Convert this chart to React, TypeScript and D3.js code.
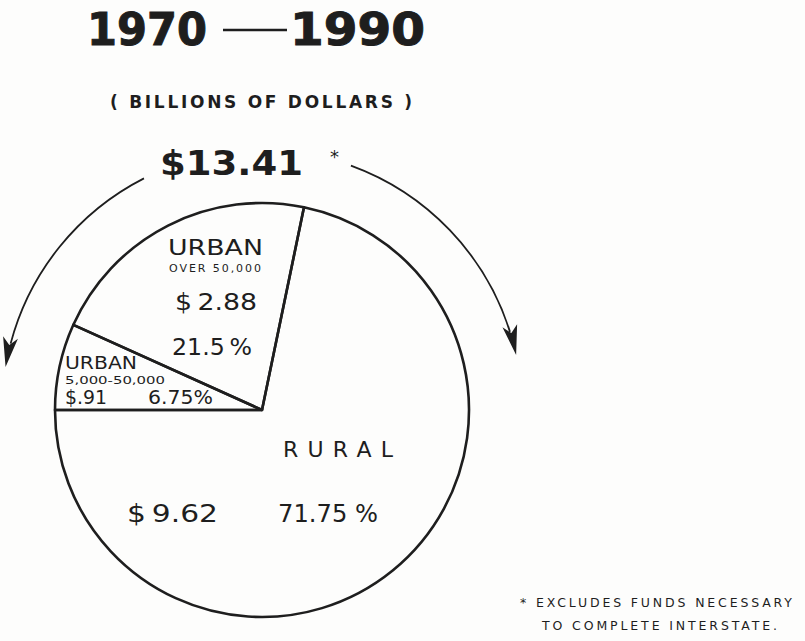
import React from "react";
import * as d3 from "d3";

const categories = ["URBAN", "URBAN", "RURAL"];
const subLabels = ["5,000-50,000", "OVER 50,000", ""];
const amounts = [0.91, 2.88, 9.62];
const percents = [6.75, 21.5, 71.75];
const totalLabel = "$13.41";
const titleYears = ["1970", "1990"];

const W = 805;
const H = 641;
const CX = 262;
const CY = 410;
const R = 207;
const ARROW_R = 260;
const INK = "#1e1e1e";
const SANS = "'DejaVu Sans', 'Liberation Sans', sans-serif";
const BOLD = "'DejaVu Sans', 'Liberation Sans', sans-serif";

const deg = (d: number) => (d * Math.PI) / 180;

function arrow(startDeg: number, tipDeg: number) {
  const dir = tipDeg > startDeg ? 1 : -1;
  const headLen = 30;
  const halfW = 7.5;
  const tip = deg(tipDeg);
  const tx = CX + ARROW_R * Math.sin(tip);
  const ty = CY - ARROW_R * Math.cos(tip);
  const dx = dir * Math.cos(tip);
  const dy = dir * Math.sin(tip);
  const nx = -dy;
  const ny = dx;
  const bx = tx - dx * headLen;
  const by = ty - dy * headLen;
  const notchX = tx - dx * headLen * 0.75;
  const notchY = ty - dy * headLen * 0.75;
  const lineEnd = tipDeg - dir * ((headLen * 0.8) / ARROW_R) * (180 / Math.PI);
  const p = d3.path();
  const a0 = deg(startDeg) - Math.PI / 2;
  const a1 = deg(lineEnd) - Math.PI / 2;
  p.moveTo(CX + ARROW_R * Math.cos(a0), CY + ARROW_R * Math.sin(a0));
  p.arc(CX, CY, ARROW_R, a0, a1, dir < 0);
  const head = d3.path();
  head.moveTo(tx, ty);
  head.lineTo(bx + nx * halfW, by + ny * halfW);
  head.lineTo(notchX, notchY);
  head.lineTo(bx - nx * halfW, by - ny * halfW);
  head.closePath();
  return { line: p.toString(), head: head.toString() };
}

export default function App() {
  const pie = d3
    .pie<number>()
    .sort(null)
    .value((d) => d)
    .startAngle(-Math.PI / 2)
    .endAngle((3 * Math.PI) / 2);
  const arcs = pie(percents);
  const arcGen = d3.arc<d3.PieArcDatum<number>>().innerRadius(0).outerRadius(R);

  const left = arrow(-27, -80.5);
  const right = arrow(20, 77.8);

  const money = (v: number, gap: string) =>
    "$" + gap + (v < 1 ? d3.format(".2f")(v).replace(/^0/, "") : d3.format(".2f")(v));

  return (
    <div style={{ position: "absolute", left: 0, top: 0 }}>
      <svg width={W} height={H} style={{ display: "block", background: "#fdfdfc" }}>
        {/* Title */}
        <text x={87} y={45} fontFamily={BOLD} fontWeight="bold" fontSize={45} fill={INK} textLength={120} lengthAdjust="spacingAndGlyphs" stroke={INK} strokeWidth={1}>
          {titleYears[0]}
        </text>
        <line x1={223} x2={287} y1={30} y2={30} stroke={INK} strokeWidth={2.5} />
        <text x={290} y={45} fontFamily={BOLD} fontWeight="bold" fontSize={45} fill={INK} textLength={135} lengthAdjust="spacingAndGlyphs" stroke={INK} strokeWidth={1}>
          {titleYears[1]}
        </text>
        <text x={110} y={108} fontFamily={BOLD} fontWeight="bold" fontSize={17} fill={INK} textLength={302} lengthAdjust="spacing">
          ( BILLIONS OF DOLLARS )
        </text>
        <text x={160} y={175} fontFamily={BOLD} fontWeight="bold" fontSize={34} fill={INK} textLength={143} lengthAdjust="spacingAndGlyphs">
          {totalLabel}
        </text>
        <text x={330} y={163} fontFamily={SANS} fontSize={18} fill={INK}>
          *
        </text>

        {/* Arrows */}
        <path d={left.line} fill="none" stroke={INK} strokeWidth={1.8} />
        <path d={left.head} fill={INK} />
        <path d={right.line} fill="none" stroke={INK} strokeWidth={1.8} />
        <path d={right.head} fill={INK} />

        {/* Pie */}
        <g transform={`translate(${CX},${CY})`}>
          {arcs.map((a, i) => (
            <path key={i} d={arcGen(a) || ""} fill="none" stroke={INK} strokeWidth={2.6} strokeLinejoin="round" />
          ))}
        </g>

        {/* Urban over 50,000 */}
        <text x={168} y={255} fontFamily={SANS} fontSize={22} fill={INK} textLength={95} lengthAdjust="spacingAndGlyphs">
          {categories[1]}
        </text>
        <text x={169} y={272} fontFamily={SANS} fontSize={11} fill={INK} textLength={92} lengthAdjust="spacing">
          {subLabels[1]}
        </text>
        <text x={175} y={310} fontFamily={SANS} fontSize={23} fill={INK} textLength={82} lengthAdjust="spacingAndGlyphs">
          {money(amounts[1], "\u2009")}
        </text>
        <text x={172} y={355} fontFamily={SANS} fontSize={23} fill={INK} textLength={80} lengthAdjust="spacingAndGlyphs">
          {percents[1] + "\u2009%"}
        </text>

        {/* Urban 5,000-50,000 */}
        <text x={65} y={369} fontFamily={SANS} fontSize={17} fill={INK} textLength={72} lengthAdjust="spacingAndGlyphs">
          {categories[0]}
        </text>
        <text x={65} y={384} fontFamily={SANS} fontSize={10.5} fill={INK} textLength={100} lengthAdjust="spacingAndGlyphs">
          {subLabels[0]}
        </text>
        <text x={65} y={404} fontFamily={SANS} fontSize={19} fill={INK} textLength={42} lengthAdjust="spacingAndGlyphs">
          {money(amounts[0], "")}
        </text>
        <text x={148} y={404} fontFamily={SANS} fontSize={19} fill={INK} textLength={65} lengthAdjust="spacingAndGlyphs">
          {percents[0] + "%"}
        </text>

        {/* Rural */}
        <text x={283} y={457} fontFamily={SANS} fontSize={22} fill={INK} textLength={110} lengthAdjust="spacing">
          {categories[2]}
        </text>
        <text x={127} y={522} fontFamily={SANS} fontSize={25} fill={INK} textLength={91} lengthAdjust="spacingAndGlyphs">
          {money(amounts[2], "\u2009")}
        </text>
        <text x={278} y={522} fontFamily={SANS} fontSize={25} fill={INK} textLength={100} lengthAdjust="spacingAndGlyphs">
          {percents[2] + " %"}
        </text>

        {/* Footnote */}
        <text x={520} y={607} fontFamily={SANS} fontSize={12.5} fill={INK} textLength={272} lengthAdjust="spacing">
          {"*  EXCLUDES FUNDS NECESSARY"}
        </text>
        <text x={542} y={630} fontFamily={SANS} fontSize={12.5} fill={INK} textLength={235} lengthAdjust="spacing">
          TO COMPLETE INTERSTATE.
        </text>
      </svg>
    </div>
  );
}
